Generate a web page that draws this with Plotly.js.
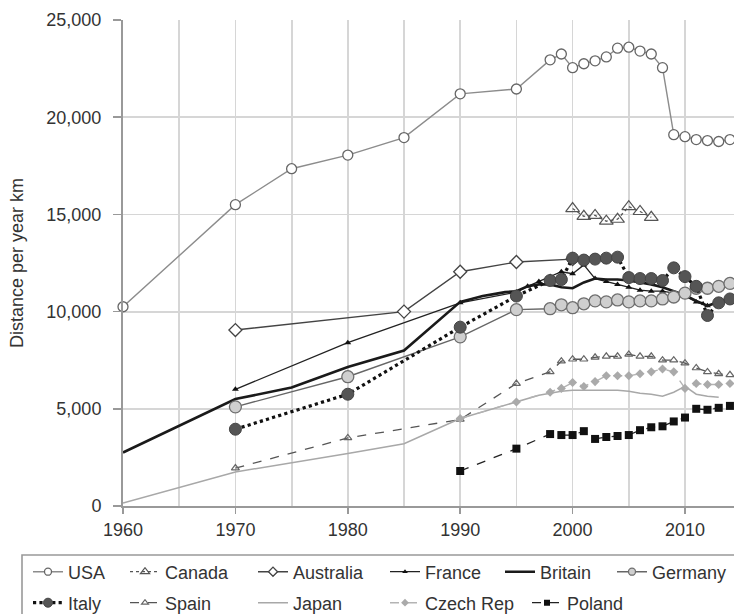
<!DOCTYPE html>
<html><head><meta charset="utf-8">
<script src="https://cdn.plot.ly/plotly-3.0.1.min.js"></script>
<style>html,body{margin:0;padding:0;background:#fff}#chart{width:734px;height:614px}</style>
</head><body><div id="chart"></div>
<script>
// ---- data ----
const usaYears = [1960,1970,1975,1980,1985,1990,1995,1998,1999,2000,2001,2002,2003,2004,2005,2006,2007,2008,2009,2010,2011,2012,2013,2014];
const usaValues = [10250,15500,17350,18050,18950,21200,21450,22950,23250,22550,22750,22900,23100,23550,23600,23400,23250,22550,19100,19000,18850,18800,18750,18850];

const canadaYears = [2000,2001,2002,2003,2004,2005,2006,2007];
const canadaValues = [15300,14900,14950,14650,14750,15400,15150,14850];

const australiaYears = [1970,1985,1990,1995,2000];
const australiaValues = [9050,10000,12050,12550,12700];

const franceYears = [1970,1980,1990,1995,1996,1997,1998,1999,2000,2001,2002,2003,2004,2005,2006,2007,2008,2009,2010,2011,2012,2013,2014];
const franceValues = [6000,8400,10450,11000,11300,11550,11800,12050,11950,12400,11700,11550,11400,11250,11100,11050,11050,10950,10800,10500,10300,10450,10550];

const britainYears = [1960,1970,1975,1980,1985,1990,1991,1992,1993,1994,1995,1996,1997,1998,1999,2000,2001,2002,2003,2004,2005,2006,2007,2008,2009,2010,2011,2012,2013,2014];
const britainValues = [2750,5500,6100,7150,8000,10500,10650,10800,10900,11000,11050,11300,11400,11400,11250,11200,11500,11700,11650,11650,11600,11500,11400,11250,11050,10850,10550,10300,10500,10700];

const germanyYears = [1970,1980,1990,1995,1998,1999,2000,2001,2002,2003,2004,2005,2006,2007,2008,2009,2010,2011,2012,2013,2014];
const germanyValues = [5100,6650,8700,10100,10150,10350,10200,10400,10550,10500,10600,10500,10550,10550,10650,10750,10950,11200,11200,11300,11450];

const italyYears = [1970,1980,1990,1995,1998,1999,2000,2001,2002,2003,2004,2005,2006,2007,2008,2009,2010,2011,2012,2013,2014];
const italyValues = [3950,5750,9200,10800,11600,11650,12750,12650,12700,12750,12800,11750,11700,11700,11600,12250,11800,11300,9800,10450,10650];

const spainYears = [1970,1980,1990,1995,1998,1999,2000,2001,2002,2003,2004,2005,2006,2007,2008,2009,2010,2011,2012,2013,2014];
const spainValues = [1950,3500,4450,6300,6900,7450,7550,7550,7650,7700,7700,7800,7700,7700,7500,7500,7350,7100,6900,6800,6750];

const japanYears = [1960,1970,1980,1985,1990,1995,1996,1997,1998,1999,2000,2001,2002,2003,2004,2005,2006,2007,2008,2009,2010,2011,2012,2013];
const japanValues = [150,1750,2700,3200,4500,5350,5550,5700,5800,5900,5950,5950,5950,5950,5950,5900,5800,5750,5650,5850,6150,5750,5650,5600];

const czechYears = [1990,1995,1998,1999,2000,2001,2002,2003,2004,2005,2006,2007,2008,2009,2010,2011,2012,2013,2014];
const czechValues = [4500,5350,5850,6050,6350,6150,6400,6700,6700,6700,6800,6900,7050,6900,6050,6300,6250,6250,6300];

const polandYears = [1990,1995,1998,1999,2000,2001,2002,2003,2004,2005,2006,2007,2008,2009,2010,2011,2012,2013,2014];
const polandValues = [1800,2950,3700,3650,3650,3850,3450,3550,3600,3650,3900,4050,4100,4350,4550,5000,4950,5050,5150];

const xTickLabels = ['1960','1970','1980','1990','2000','2010'];
const xTickYears = [1960,1970,1980,1990,2000,2010];

// ---- styling ----
const FONT = 'Liberation Sans, Arial, Helvetica, sans-serif';
const series = [
  {name:'USA', x:usaYears, y:usaValues, mode:'lines+markers',
   line:{color:'#8c8c8c', width:1.4}, marker:{symbol:'circle', size:10, color:'#ffffff', line:{color:'#666', width:1.3}}, legSize:7},
  {name:'Canada', x:canadaYears, y:canadaValues, mode:'lines+markers',
   line:{color:'#555', width:1.3, dash:'dot'}, marker:{symbol:'triangle-up-open', size:12, color:'#555', line:{width:1.2}}, legSize:8},
  {name:'Australia', x:australiaYears, y:australiaValues, mode:'lines+markers',
   line:{color:'#444', width:1.4}, marker:{symbol:'diamond', size:10, color:'#ffffff', line:{color:'#444', width:1.3}}, legSize:7},
  {name:'France', x:franceYears, y:franceValues, mode:'lines+markers',
   line:{color:'#222', width:1.3}, marker:{symbol:'triangle-up', size:6, color:'#111'}, legSize:5},
  {name:'Britain', x:britainYears, y:britainValues, mode:'lines',
   line:{color:'#1a1a1a', width:2.6}},
  {name:'Germany', x:germanyYears, y:germanyValues, mode:'lines+markers',
   line:{color:'#666', width:1.4}, marker:{symbol:'circle', size:12, color:'#cfcfcf', line:{color:'#6e6e6e', width:1.3}}, legSize:7},
  {name:'Italy', x:italyYears, y:italyValues, mode:'lines+markers',
   line:{color:'#111', width:3.2, dash:'dot'}, marker:{symbol:'circle', size:12, color:'#555', line:{color:'#444', width:1}}, legSize:9},
  {name:'Spain', x:spainYears, y:spainValues, mode:'lines+markers',
   line:{color:'#555', width:1.3, dash:'dash'}, marker:{symbol:'triangle-up-open', size:7, color:'#666', line:{width:1.2}}, legSize:6},
  {name:'Japan', x:japanYears, y:japanValues, mode:'lines',
   line:{color:'#a8a8a8', width:1.5}},
  {name:'Czech Rep', x:czechYears, y:czechValues, mode:'lines+markers',
   line:{color:'#b4b4b4', width:1.4, dash:'dash'}, marker:{symbol:'diamond', size:7, color:'#aaaaaa'}, legSize:6},
  {name:'Poland', x:polandYears, y:polandValues, mode:'lines+markers',
   line:{color:'#222', width:1.3, dash:'dash'}, marker:{symbol:'square', size:8, color:'#111'}, legSize:6}
];

// legend placement (px in page) -> paper coords
const L = 123, R = 734, T = 20, B = 506;
const px2x = p => (p - L) / (R - L);
const py2y = p => (B - p) / (B - T);
const legendSpots = [[28,572],[125,572],[253,572],[385,572],[500,572],[612,572],
                     [28,603],[125,603],[253,603],[385,603],[527,603]];

const layout = {
  width: 734, height: 614,
  margin: {l: 123, r: 0, t: 20, b: 108, autoexpand: false},
  paper_bgcolor: '#fff', plot_bgcolor: '#fff',
  font: {family: FONT, size: 18, color: '#333'},
  showlegend: true,
  xaxis: {
    range: [1960, 2014.36], tickvals: xTickYears, ticktext: xTickLabels,
    ticks: 'outside', ticklen: 6, tickcolor: '#999', tickwidth: 1.5,
    showline: true, linecolor: '#999', linewidth: 2,
    showgrid: true, gridcolor: '#d6d6d6', gridwidth: 1.8,
    minor: {dtick: 5, tick0: 1960, showgrid: true, gridcolor: '#d6d6d6', gridwidth: 1.8, ticks: ''},
    zeroline: false, ticklabelstandoff: 0,
    tickfont: {family: FONT, size: 18, color: '#333'}
  },
  yaxis: {
    range: [0, 25000], dtick: 5000, tick0: 0, tickformat: ',d',
    ticks: 'outside', ticklen: 8, tickcolor: '#999', tickwidth: 1.5,
    showline: true, linecolor: '#999', linewidth: 2,
    showgrid: true, gridcolor: '#d6d6d6', gridwidth: 1.8,
    zeroline: false, ticklabelstandoff: 8,
    tickfont: {family: FONT, size: 18, color: '#333'},
    title: {text: 'Distance per year km', standoff: 18, font: {family: FONT, size: 18, color: '#333'}}
  },
  shapes: [{type: 'rect', xref: 'paper', yref: 'paper',
    x0: px2x(22), x1: px2x(760), y0: py2y(650), y1: py2y(555),
    line: {color: '#999', width: 1.6}, fillcolor: 'rgba(0,0,0,0)', layer: 'above'}]
};

const traces = [];
series.forEach(s => {
  const t = Object.assign({type: 'scatter', cliponaxis: false, showlegend: false, hoverinfo: 'skip'}, s);
  delete t.legSize;
  traces.push(t);
});
// legend-only entries (no data points) with smaller key symbols
series.forEach((s, i) => {
  const id = i === 0 ? 'legend' : 'legend' + (i + 1);
  layout[id] = {
    x: px2x(legendSpots[i][0]), y: py2y(legendSpots[i][1]),
    xanchor: 'left', yanchor: 'middle', xref: 'paper', yref: 'paper',
    orientation: 'v', bgcolor: 'rgba(0,0,0,0)', borderwidth: 0,
    font: {family: FONT, size: 18, color: '#333'}
  };
  const key = {type: 'scatter', x: [null], y: [null], name: s.name, mode: s.mode,
    line: s.line, legend: id, showlegend: true, hoverinfo: 'skip'};
  if (s.marker) key.marker = Object.assign({}, s.marker, {size: s.legSize});
  traces.push(key);
});

Plotly.newPlot('chart', traces, layout, {displayModeBar: false, staticPlot: true});
</script>
</body></html>
